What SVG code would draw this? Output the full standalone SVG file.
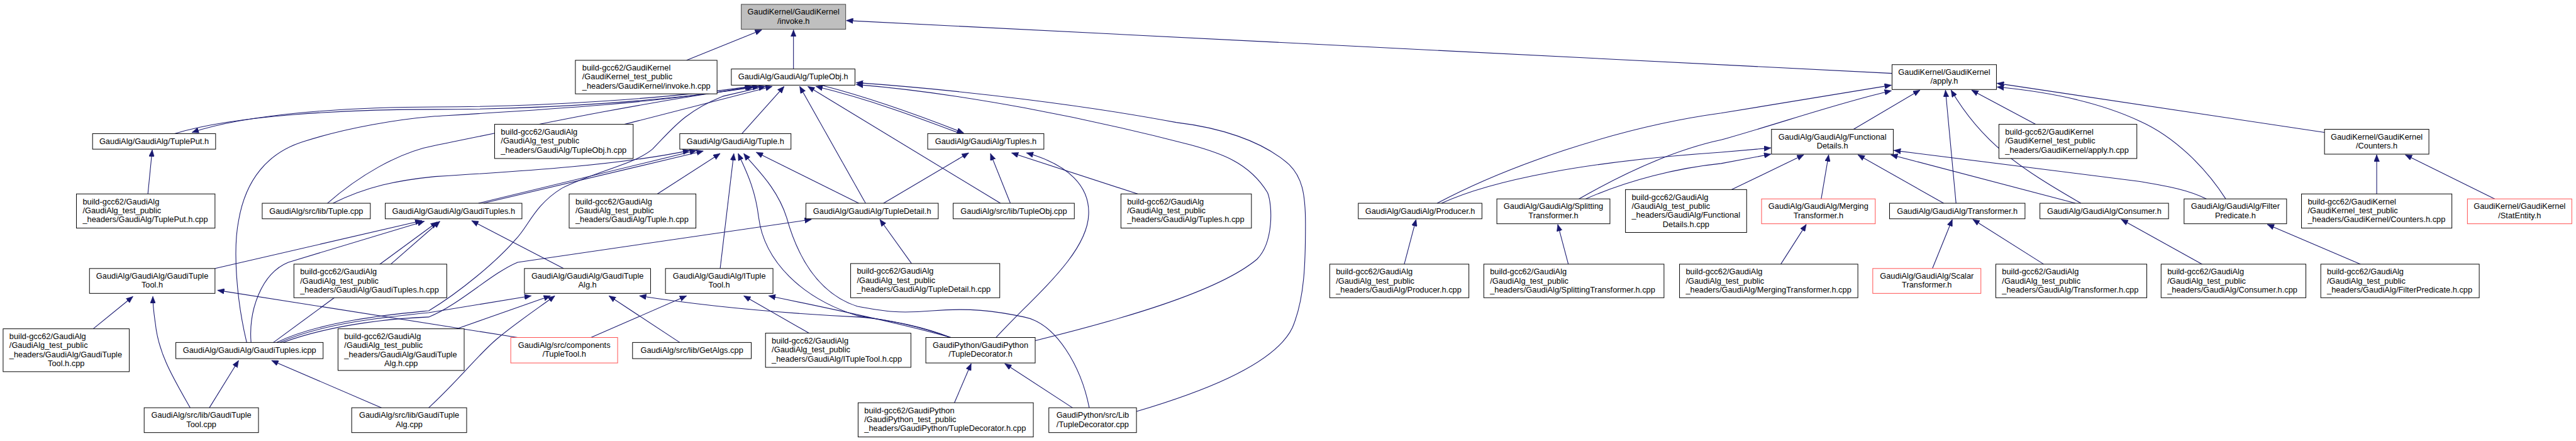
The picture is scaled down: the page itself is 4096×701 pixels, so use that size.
<svg xmlns="http://www.w3.org/2000/svg" width="4096" height="701" viewBox="0 0 4096 701">
<style>
.n rect{fill:#fff;stroke:#000;stroke-width:1}
.r rect{stroke:#ff4d4d}
.g rect{fill:#bfbfbf;stroke:#404040}
text{font-family:"Liberation Sans",Arial,sans-serif;font-size:13px;fill:#000}
.m{text-anchor:middle}
.e path{fill:none;stroke:#191970;stroke-width:1.1;marker-end:url(#a)}
</style>
<defs>
<marker id="a" viewBox="0 0 11 9" refX="11" refY="4.5" markerWidth="11" markerHeight="9" markerUnits="userSpaceOnUse" orient="auto">
<path d="M0,0 L11,4.5 L0,9 z" fill="#191970" stroke="#191970" stroke-width="0.5"/>
</marker>
</defs>
<rect width="4096" height="701" fill="#fff"/>
<g transform="scale(0.988)">
<g id="edges" class="e">
<path d="M1105,97 L1226,48"/>
<path d="M1277,111 L1277,48"/>
<path d="M3045,118 L1362,33"/>
<path d="M281,215 C380,185 560,176 700,176 C880,176 1080,162 1222,139"/>
<path d="M1215,138 C1080,158 880,172 700,172 C560,172 400,183 309,213"/>
<path d="M1005,200 L1243,139"/>
<path d="M527,327 C575,285 640,245 700,234 C820,210 1000,170 1213,140"/>
<path d="M536,327 C590,300 640,290 700,284 C850,275 1000,265 1110,242"/>
<path d="M1194,215 L1262,139"/>
<path d="M1393,327 L1287,139"/>
<path d="M1610,327 L1300,139"/>
<path d="M1546,215 C1480,190 1400,160 1313,139"/>
<path d="M1325,138 C1410,160 1490,190 1551,214"/>
<path d="M1829,662 C1920,635 2050,590 2080,527 C2100,480 2101,420 2101,360 C2101,310 2095,285 2075,265 C2030,225 1960,205 1893,197 C1750,170 1550,145 1378,133"/>
<path d="M1666,548 C1800,515 1960,470 2023,417 C2050,390 2048,330 2040,310 C2010,260 1960,245 1916,233 C1750,190 1550,150 1378,136"/>
<path d="M1603,543 C1660,480 1750,410 1752,345 C1754,300 1720,265 1652,246"/>
<path d="M1422,327 L1559,246"/>
<path d="M1626,327 L1594,247"/>
<path d="M1831,312 L1628,246"/>
<path d="M1159,432 L1181,247"/>
<path d="M1058,312 L1159,247"/>
<path d="M1530,543 C1470,520 1420,515 1380,508 C1290,480 1230,420 1221,350 C1215,300 1198,270 1188,247"/>
<path d="M1753,656 C1740,590 1700,520 1648,510 C1600,500 1560,495 1500,500 C1440,505 1420,500 1380,493 C1310,470 1280,400 1266,350 C1250,300 1215,270 1197,247"/>
<path d="M1382,327 L1217,245"/>
<path d="M770,327 L1121,242"/>
<path d="M778,327 L1132,243"/>
<path d="M346,432 L679,355"/>
<path d="M404,551 C400,500 420,440 464,422 L683,356"/>
<path d="M440,551 L704,357"/>
<path d="M629,425 L708,356"/>
<path d="M907,432 L759,355"/>
<path d="M150,529 L214,477"/>
<path d="M306,656 C280,610 255,570 250,520 C247,500 246,490 246,477"/>
<path d="M833,543 L350,467"/>
<path d="M337,656 L384,580"/>
<path d="M614,656 L437,580"/>
<path d="M397,551 C380,480 375,400 384,355 C395,290 430,245 491,227 C560,205 640,192 700,187 C850,178 1080,165 1210,139"/>
<path d="M445,551 C520,515 640,505 690,500 C740,470 800,420 830,385 C850,365 860,330 904,303 C960,275 1020,265 1050,240 C1080,210 1100,180 1163,155 L1232,139"/>
<path d="M450,551 C520,520 620,510 690,503 L855,476"/>
<path d="M735,529 L886,476"/>
<path d="M690,656 C740,610 770,570 800,545 C830,520 860,500 893,476"/>
<path d="M1094,551 L980,476"/>
<path d="M1530,543 C1480,525 1420,512 1380,510 C1280,505 1150,495 1029,476"/>
<path d="M951,543 L1105,476"/>
<path d="M1302,536 L1197,476"/>
<path d="M1530,543 C1450,520 1330,495 1237,476"/>
<path d="M1467,424 L1416,353"/>
<path d="M455,551 C540,520 640,512 690,510 C740,490 790,440 833,422 L1306,353"/>
<path d="M1536,648 L1563,585"/>
<path d="M1726,656 L1617,585"/>
<path d="M238,312 L245,241"/>
<path d="M2313,327 C2420,270 2600,205 2770,182 L3044,137"/>
<path d="M2541,320 C2620,275 2700,240 2770,225 C2860,200 2960,165 3044,146"/>
<path d="M2320,327 C2400,290 2550,260 2770,245 L2850,238"/>
<path d="M2552,320 C2620,290 2700,270 2770,263 L2850,248"/>
<path d="M2983,208 L3090,145"/>
<path d="M3148,327 L3131,145"/>
<path d="M3349,327 C3250,270 3190,230 3140,145"/>
<path d="M3276,200 L3173,145"/>
<path d="M3741,213 L3214,134"/>
<path d="M3582,320 C3550,270 3500,220 3444,195 C3380,165 3300,148 3214,140"/>
<path d="M3825,312 L3825,249"/>
<path d="M4015,320 L3871,249"/>
<path d="M2787,305 L2903,249"/>
<path d="M2931,320 L2943,249"/>
<path d="M3128,327 L2990,249"/>
<path d="M3340,327 L3043,249"/>
<path d="M3551,320 C3520,305 3490,300 3444,292 L3048,242"/>
<path d="M2260,425 L2279,353"/>
<path d="M2524,425 L2507,361"/>
<path d="M2866,425 L2907,361"/>
<path d="M3110,432 L3142,353"/>
<path d="M3289,425 L3175,353"/>
<path d="M3544,425 L3414,353"/>
<path d="M3799,425 L3649,361"/>
</g>
<g id="n_invoke" class="n g"><rect x="1193" y="7" width="168" height="40"/><text class="m" x="1277" y="23.5">GaudiKernel/GaudiKernel</text><text class="m" x="1277" y="38">/invoke.h</text></g>
<g id="n_invoke_cpp" class="n"><rect x="926" y="97" width="228" height="54"/><text x="937" y="113.5">build-gcc62/GaudiKernel</text><text x="937" y="128">/GaudiKernel_test_public</text><text x="937" y="142.5">_headers/GaudiKernel/invoke.h.cpp</text></g>
<g id="n_tupleobj" class="n"><rect x="1177" y="111" width="199" height="26"/><text class="m" x="1276.5" y="128">GaudiAlg/GaudiAlg/TupleObj.h</text></g>
<g id="n_apply" class="n"><rect x="3045" y="104" width="168" height="40"/><text class="m" x="3129" y="120.5">GaudiKernel/GaudiKernel</text><text class="m" x="3129" y="135">/apply.h</text></g>
<g id="n_tupleput" class="n"><rect x="149" y="215" width="198" height="25"/><text class="m" x="248" y="232">GaudiAlg/GaudiAlg/TuplePut.h</text></g>
<g id="n_tupleobj_cpp" class="n"><rect x="796" y="200" width="223" height="55"/><text x="806" y="216.5">build-gcc62/GaudiAlg</text><text x="806" y="231">/GaudiAlg_test_public</text><text x="806" y="245.5">_headers/GaudiAlg/TupleObj.h.cpp</text></g>
<g id="n_tuple" class="n"><rect x="1094" y="215" width="179" height="25"/><text class="m" x="1183.5" y="232">GaudiAlg/GaudiAlg/Tuple.h</text></g>
<g id="n_tuples" class="n"><rect x="1493" y="215" width="187" height="25"/><text class="m" x="1586.5" y="232">GaudiAlg/GaudiAlg/Tuples.h</text></g>
<g id="n_funcdet" class="n"><rect x="2851" y="208" width="196" height="40"/><text class="m" x="2949" y="224.5">GaudiAlg/GaudiAlg/Functional</text><text class="m" x="2949" y="239">Details.h</text></g>
<g id="n_apply_cpp" class="n"><rect x="3217" y="200" width="222" height="55"/><text x="3227" y="216.5">build-gcc62/GaudiKernel</text><text x="3227" y="231">/GaudiKernel_test_public</text><text x="3227" y="245.5">_headers/GaudiKernel/apply.h.cpp</text></g>
<g id="n_counters" class="n"><rect x="3741" y="208" width="168" height="40"/><text class="m" x="3825" y="224.5">GaudiKernel/GaudiKernel</text><text class="m" x="3825" y="239">/Counters.h</text></g>
<g id="n_tupleput_cpp" class="n"><rect x="123" y="312" width="223" height="55"/><text x="133" y="328.5">build-gcc62/GaudiAlg</text><text x="133" y="343">/GaudiAlg_test_public</text><text x="133" y="357.5">_headers/GaudiAlg/TuplePut.h.cpp</text></g>
<g id="n_tuple_cpp" class="n"><rect x="422" y="327" width="174" height="25"/><text class="m" x="509" y="344">GaudiAlg/src/lib/Tuple.cpp</text></g>
<g id="n_gaudituples" class="n"><rect x="620" y="327" width="220" height="25"/><text class="m" x="730" y="344">GaudiAlg/GaudiAlg/GaudiTuples.h</text></g>
<g id="n_tuple_hcpp" class="n"><rect x="916" y="312" width="204" height="55"/><text x="926" y="328.5">build-gcc62/GaudiAlg</text><text x="926" y="343">/GaudiAlg_test_public</text><text x="926" y="357.5">_headers/GaudiAlg/Tuple.h.cpp</text></g>
<g id="n_tupledetail" class="n"><rect x="1297" y="327" width="213" height="25"/><text class="m" x="1403.5" y="344">GaudiAlg/GaudiAlg/TupleDetail.h</text></g>
<g id="n_tupleobjcpp" class="n"><rect x="1534" y="327" width="195" height="25"/><text class="m" x="1631.5" y="344">GaudiAlg/src/lib/TupleObj.cpp</text></g>
<g id="n_tuples_cpp" class="n"><rect x="1804" y="312" width="210" height="55"/><text x="1814" y="328.5">build-gcc62/GaudiAlg</text><text x="1814" y="343">/GaudiAlg_test_public</text><text x="1814" y="357.5">_headers/GaudiAlg/Tuples.h.cpp</text></g>
<g id="n_producer" class="n"><rect x="2186" y="327" width="199" height="25"/><text class="m" x="2285.5" y="344">GaudiAlg/GaudiAlg/Producer.h</text></g>
<g id="n_splitting" class="n"><rect x="2409" y="320" width="182" height="40"/><text class="m" x="2500" y="336.5">GaudiAlg/GaudiAlg/Splitting</text><text class="m" x="2500" y="351">Transformer.h</text></g>
<g id="n_funcdet_cpp" class="n"><rect x="2616" y="305" width="195" height="69"/><text x="2626" y="321.5">build-gcc62/GaudiAlg</text><text x="2626" y="336">/GaudiAlg_test_public</text><text x="2626" y="350.5">_headers/GaudiAlg/Functional</text><text class="m" x="2713.5" y="365">Details.h.cpp</text></g>
<g id="n_merging" class="n r"><rect x="2835" y="320" width="183" height="40"/><text class="m" x="2926.5" y="336.5">GaudiAlg/GaudiAlg/Merging</text><text class="m" x="2926.5" y="351">Transformer.h</text></g>
<g id="n_transformer" class="n"><rect x="3041" y="327" width="218" height="25"/><text class="m" x="3150" y="344">GaudiAlg/GaudiAlg/Transformer.h</text></g>
<g id="n_consumer" class="n"><rect x="3283" y="327" width="207" height="25"/><text class="m" x="3386.5" y="344">GaudiAlg/GaudiAlg/Consumer.h</text></g>
<g id="n_filter" class="n"><rect x="3515" y="320" width="165" height="40"/><text class="m" x="3597.5" y="336.5">GaudiAlg/GaudiAlg/Filter</text><text class="m" x="3597.5" y="351">Predicate.h</text></g>
<g id="n_counters_cpp" class="n"><rect x="3704" y="312" width="242" height="55"/><text x="3714" y="328.5">build-gcc62/GaudiKernel</text><text x="3714" y="343">/GaudiKernel_test_public</text><text x="3714" y="357.5">_headers/GaudiKernel/Counters.h.cpp</text></g>
<g id="n_statentity" class="n r"><rect x="3971" y="320" width="168" height="40"/><text class="m" x="4055" y="336.5">GaudiKernel/GaudiKernel</text><text class="m" x="4055" y="351">/StatEntity.h</text></g>
<g id="n_gtt" class="n"><rect x="144" y="432" width="202" height="40"/><text class="m" x="245" y="448.5">GaudiAlg/GaudiAlg/GaudiTuple</text><text class="m" x="245" y="463">Tool.h</text></g>
<g id="n_gaudituples_cpp" class="n"><rect x="473" y="425" width="246" height="54"/><text x="483" y="441.5">build-gcc62/GaudiAlg</text><text x="483" y="456">/GaudiAlg_test_public</text><text x="483" y="470.5">_headers/GaudiAlg/GaudiTuples.h.cpp</text></g>
<g id="n_gta" class="n"><rect x="844" y="432" width="203" height="40"/><text class="m" x="945.5" y="448.5">GaudiAlg/GaudiAlg/GaudiTuple</text><text class="m" x="945.5" y="463">Alg.h</text></g>
<g id="n_itt" class="n"><rect x="1071" y="432" width="173" height="40"/><text class="m" x="1157.5" y="448.5">GaudiAlg/GaudiAlg/ITuple</text><text class="m" x="1157.5" y="463">Tool.h</text></g>
<g id="n_tupledetail_cpp" class="n"><rect x="1369" y="424" width="240" height="55"/><text x="1379" y="440.5">build-gcc62/GaudiAlg</text><text x="1379" y="455">/GaudiAlg_test_public</text><text x="1379" y="469.5">_headers/GaudiAlg/TupleDetail.h.cpp</text></g>
<g id="n_producer_cpp" class="n"><rect x="2140" y="425" width="224" height="54"/><text x="2150" y="441.5">build-gcc62/GaudiAlg</text><text x="2150" y="456">/GaudiAlg_test_public</text><text x="2150" y="470.5">_headers/GaudiAlg/Producer.h.cpp</text></g>
<g id="n_splitting_cpp" class="n"><rect x="2388" y="425" width="290" height="54"/><text x="2398" y="441.5">build-gcc62/GaudiAlg</text><text x="2398" y="456">/GaudiAlg_test_public</text><text x="2398" y="470.5">_headers/GaudiAlg/SplittingTransformer.h.cpp</text></g>
<g id="n_merging_cpp" class="n"><rect x="2703" y="425" width="287" height="54"/><text x="2713" y="441.5">build-gcc62/GaudiAlg</text><text x="2713" y="456">/GaudiAlg_test_public</text><text x="2713" y="470.5">_headers/GaudiAlg/MergingTransformer.h.cpp</text></g>
<g id="n_scalar" class="n r"><rect x="3014" y="432" width="174" height="40"/><text class="m" x="3101" y="448.5">GaudiAlg/GaudiAlg/Scalar</text><text class="m" x="3101" y="463">Transformer.h</text></g>
<g id="n_transformer_cpp" class="n"><rect x="3212" y="425" width="243" height="54"/><text x="3222" y="441.5">build-gcc62/GaudiAlg</text><text x="3222" y="456">/GaudiAlg_test_public</text><text x="3222" y="470.5">_headers/GaudiAlg/Transformer.h.cpp</text></g>
<g id="n_consumer_cpp" class="n"><rect x="3478" y="425" width="233" height="54"/><text x="3488" y="441.5">build-gcc62/GaudiAlg</text><text x="3488" y="456">/GaudiAlg_test_public</text><text x="3488" y="470.5">_headers/GaudiAlg/Consumer.h.cpp</text></g>
<g id="n_filter_cpp" class="n"><rect x="3735" y="425" width="255" height="54"/><text x="3745" y="441.5">build-gcc62/GaudiAlg</text><text x="3745" y="456">/GaudiAlg_test_public</text><text x="3745" y="470.5">_headers/GaudiAlg/FilterPredicate.h.cpp</text></g>
<g id="n_gtt_hcpp" class="n"><rect x="5" y="529" width="203" height="69"/><text x="15" y="545.5">build-gcc62/GaudiAlg</text><text x="15" y="560">/GaudiAlg_test_public</text><text x="15" y="574.5">_headers/GaudiAlg/GaudiTuple</text><text class="m" x="106.5" y="589">Tool.h.cpp</text></g>
<g id="n_icpp" class="n"><rect x="283" y="551" width="237" height="26"/><text class="m" x="401.5" y="568">GaudiAlg/GaudiAlg/GaudiTuples.icpp</text></g>
<g id="n_gta_hcpp" class="n"><rect x="544" y="529" width="203" height="67"/><text x="554" y="545.5">build-gcc62/GaudiAlg</text><text x="554" y="560">/GaudiAlg_test_public</text><text x="554" y="574.5">_headers/GaudiAlg/GaudiTuple</text><text class="m" x="645.5" y="589">Alg.h.cpp</text></g>
<g id="n_tupletool" class="n r"><rect x="822" y="543" width="172" height="41"/><text class="m" x="908" y="559.5">GaudiAlg/src/components</text><text class="m" x="908" y="574">/TupleTool.h</text></g>
<g id="n_getalgs" class="n"><rect x="1018" y="551" width="191" height="26"/><text class="m" x="1113.5" y="568">GaudiAlg/src/lib/GetAlgs.cpp</text></g>
<g id="n_itt_cpp" class="n"><rect x="1232" y="536" width="234" height="55"/><text x="1242" y="552.5">build-gcc62/GaudiAlg</text><text x="1242" y="567">/GaudiAlg_test_public</text><text x="1242" y="581.5">_headers/GaudiAlg/ITupleTool.h.cpp</text></g>
<g id="n_tdec" class="n"><rect x="1490" y="543" width="176" height="41"/><text class="m" x="1578" y="559.5">GaudiPython/GaudiPython</text><text class="m" x="1578" y="574">/TupleDecorator.h</text></g>
<g id="n_tdec_hcpp" class="n"><rect x="1381" y="648" width="282" height="55"/><text x="1391" y="664.5">build-gcc62/GaudiPython</text><text x="1391" y="679">/GaudiPython_test_public</text><text x="1391" y="693.5">_headers/GaudiPython/TupleDecorator.h.cpp</text></g>
<g id="n_tdec_cpp" class="n"><rect x="1688" y="656" width="141" height="40"/><text class="m" x="1758.5" y="672.5">GaudiPython/src/Lib</text><text class="m" x="1758.5" y="687">/TupleDecorator.cpp</text></g>
<g id="n_gtt_cpp" class="n"><rect x="232" y="656" width="184" height="40"/><text class="m" x="324" y="672.5">GaudiAlg/src/lib/GaudiTuple</text><text class="m" x="324" y="687">Tool.cpp</text></g>
<g id="n_gta_cpp" class="n"><rect x="566" y="656" width="185" height="40"/><text class="m" x="658.5" y="672.5">GaudiAlg/src/lib/GaudiTuple</text><text class="m" x="658.5" y="687">Alg.cpp</text></g>
</g>
</svg>
